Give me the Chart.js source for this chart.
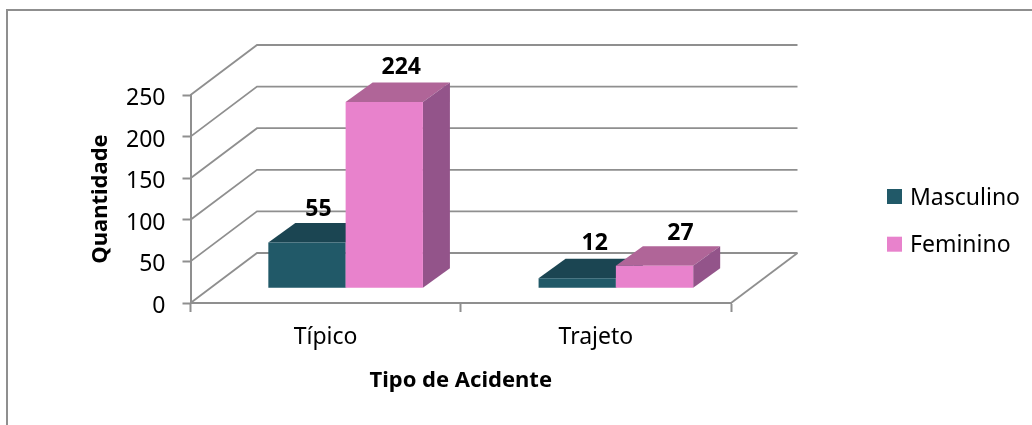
<!DOCTYPE html>
<html>
<head>
<meta charset="utf-8">
<style>
  html, body { margin: 0; padding: 0; background: #fff; }
  #wrap { width: 1032px; height: 425px; }
</style>
<script src="https://cdn.jsdelivr.net/npm/chart.js@4/dist/chart.umd.min.js"></script>
</head>
<body>
<div id="wrap"><canvas id="chart"></canvas></div>
<script>
const categories = ['Típico', 'Trajeto'];
const masculino = [55, 12];
const feminino = [224, 27];

const FONT = '"Noto Sans", sans-serif';
const LINE = '#8f8f8f';
// depth of the floor and of the bars, in pixels
const WALL = { x: 66.5, y: 50 };
const BAR = { x: 27, y: 19.5 };
// bars stand a little in from the front edge of the floor
const BAR_SHIFT = { x: 20, y: -14.7 };
// value labels were moved by hand in the original, [dx, dy] per bar
const LABEL_NUDGE = [[[11.5, -33.5], [17.5, -35]], [[17, -34], [26, -32]]];

const face = (ctx, color, pts) => {
  ctx.fillStyle = color;
  ctx.beginPath();
  pts.forEach((p, i) => i ? ctx.lineTo(p[0], p[1]) : ctx.moveTo(p[0], p[1]));
  ctx.closePath();
  ctx.fill();
};

const scene3d = {
  id: 'scene3d',
  beforeDatasetsDraw(chart) {
    const { ctx, chartArea: a, scales: { y } } = chart;

    // walls and floor
    ctx.save();
    ctx.strokeStyle = LINE;
    ctx.lineWidth = 1.8;
    y.ticks.forEach(t => {
      const py = y.getPixelForValue(t.value);
      ctx.beginPath();
      ctx.moveTo(a.left, py);
      ctx.lineTo(a.left + WALL.x, py - WALL.y);
      ctx.lineTo(a.right + WALL.x, py - WALL.y);
      ctx.stroke();
    });
    ctx.beginPath();
    ctx.moveTo(a.right, a.bottom);
    ctx.lineTo(a.right + WALL.x, a.bottom - WALL.y);
    ctx.stroke();
    ctx.restore();

    // first series goes first so the second one overlaps it, as in the original
    ctx.save();
    ctx.translate(BAR_SHIFT.x, BAR_SHIFT.y);
    chart.data.datasets.forEach((ds, i) => {
      const meta = chart.getDatasetMeta(i);
      meta.data.forEach(el => {
        const l = el.x - el.width / 2, r = el.x + el.width / 2;
        face(ctx, ds.topColor, [[l, el.y], [l + BAR.x, el.y - BAR.y], [r + BAR.x, el.y - BAR.y], [r, el.y]]);
        face(ctx, ds.sideColor, [[r, el.y], [r + BAR.x, el.y - BAR.y], [r + BAR.x, el.base - BAR.y], [r, el.base]]);
      });
      meta.controller.draw();
    });
    ctx.restore();

    // value labels
    ctx.save();
    ctx.font = 'bold 23px ' + FONT;
    ctx.fillStyle = '#000';
    ctx.textAlign = 'center';
    ctx.textBaseline = 'middle';
    chart.data.datasets.forEach((ds, i) => {
      chart.getDatasetMeta(i).data.forEach((el, j) => {
        const n = LABEL_NUDGE[i][j];
        ctx.fillText(ds.data[j], el.x + BAR_SHIFT.x + n[0], el.y + BAR_SHIFT.y + n[1]);
      });
    });
    ctx.restore();
    return false;
  }
};

const sideLegend = {
  id: 'sideLegend',
  afterDraw(chart) {
    const ctx = chart.ctx;
    ctx.save();
    ctx.font = '23px ' + FONT;
    ctx.textBaseline = 'middle';
    chart.data.datasets.forEach((ds, i) => {
      const cy = 196.5 + i * 47.7;
      ctx.fillStyle = ds.backgroundColor;
      ctx.fillRect(887, cy - 7.5, 15, 15);
      ctx.fillStyle = '#000';
      ctx.fillText(ds.label, 910, cy + 1.5);
    });
    ctx.restore();
  }
};

const frame = {
  id: 'frame',
  beforeDraw(chart) {
    const ctx = chart.ctx;
    ctx.save();
    ctx.fillStyle = '#fff';
    ctx.fillRect(0, 0, chart.width, chart.height);
    ctx.strokeStyle = LINE;
    ctx.lineWidth = 2;
    ctx.strokeRect(7, 10, 1040, 440);
    ctx.restore();
  }
};

new Chart(document.getElementById('chart'), {
  type: 'bar',
  data: {
    labels: categories,
    datasets: [
      { label: 'Masculino', data: masculino, backgroundColor: '#215968', topColor: '#1b4552', sideColor: '#173c48' },
      { label: 'Feminino', data: feminino, backgroundColor: '#e882cc', topColor: '#b06598', sideColor: '#93548a' }
    ]
  },
  options: {
    responsive: true,
    maintainAspectRatio: false,
    animation: false,
    layout: { padding: { left: 88, top: 95, right: 301, bottom: 0 } },
    datasets: { bar: { barPercentage: 1, categoryPercentage: 0.572 } },
    plugins: { legend: { display: false }, tooltip: { enabled: false } },
    scales: {
      x: {
        afterFit(s) { s.height = 122; },
        border: { color: LINE, width: 2 },
        grid: { drawOnChartArea: false, tickColor: LINE, tickWidth: 2, tickLength: 9 },
        ticks: { color: '#000', font: { family: FONT, size: 23 }, padding: 12, maxRotation: 0 },
        title: { display: true, text: 'Tipo de Acidente', color: '#000', font: { family: FONT, size: 22, weight: 'bold' }, padding: { top: 0, bottom: 31 } }
      },
      y: {
        min: 0,
        max: 250,
        afterFit(s) { s.width = 102.5; },
        border: { color: LINE, width: 2 },
        grid: { drawOnChartArea: false, tickColor: LINE, tickWidth: 2, tickLength: 8 },
        ticks: { stepSize: 50, color: '#000', font: { family: FONT, size: 23 }, padding: 17, labelOffset: 3.5 },
        title: { display: true, text: 'Quantidade', color: '#000', font: { family: FONT, size: 22, weight: 'bold' }, padding: 0 }
      }
    }
  },
  plugins: [frame, scene3d, sideLegend]
});
</script>
</body>
</html>
